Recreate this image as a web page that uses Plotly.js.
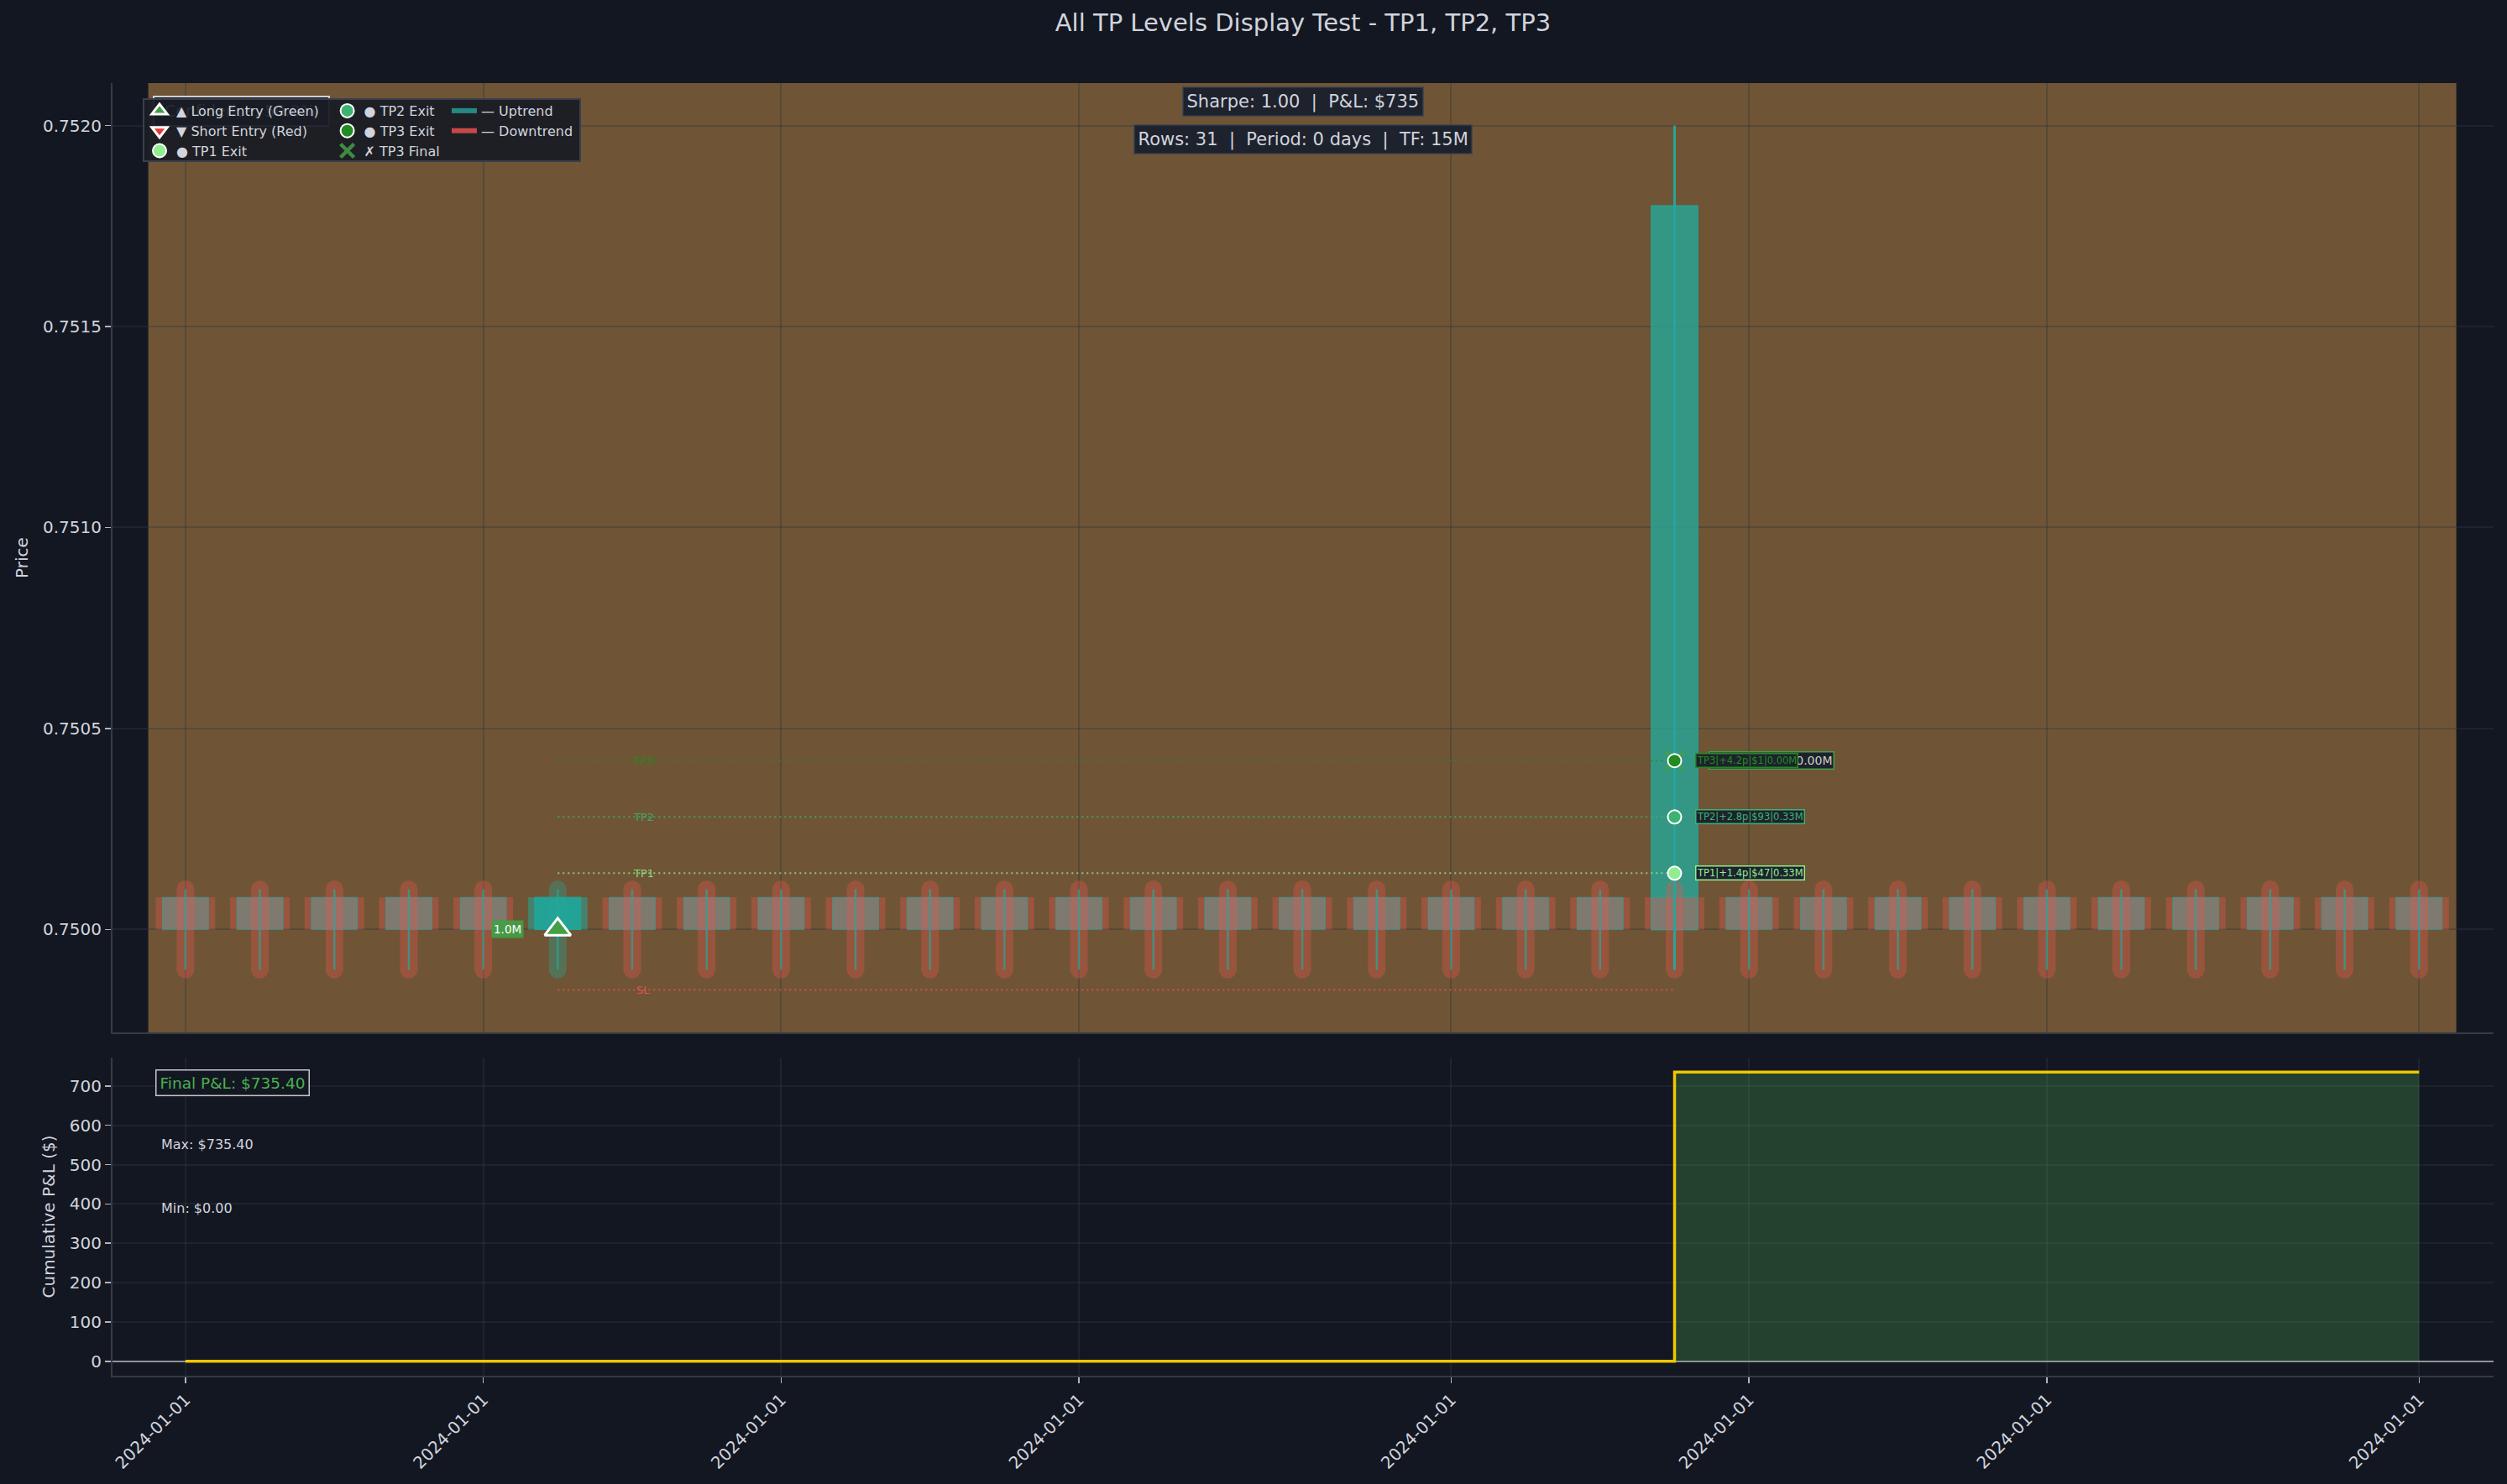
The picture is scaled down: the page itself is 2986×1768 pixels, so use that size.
<!DOCTYPE html>
<html>
<head>
<meta charset="utf-8">
<script src="https://cdn.plot.ly/plotly-3.0.1.min.js"></script>
<style>html,body{margin:0;padding:0;background:#131722;}</style>
</head>
<body>
<div id="chart" style="width:2986px;height:1768px;"></div>
<script>
// ---------------- DATA ----------------
const candleIndex = [0,1,2,3,4,5,6,7,8,9,10,11,12,13,14,15,16,17,18,19,20,21,22,23,24,25,26,27,28,29,30];
const candleOpen  = [0.75000,0.75000,0.75000,0.75000,0.75000,0.75000,0.75000,0.75000,0.75000,0.75000,0.75000,0.75000,0.75000,0.75000,0.75000,0.75000,0.75000,0.75000,0.75000,0.75000,0.75000,0.75000,0.75000,0.75000,0.75000,0.75000,0.75000,0.75000,0.75000,0.75000,0.75000];
const candleHigh  = [0.75010,0.75010,0.75010,0.75010,0.75010,0.75010,0.75010,0.75010,0.75010,0.75010,0.75010,0.75010,0.75010,0.75010,0.75010,0.75010,0.75010,0.75010,0.75010,0.75010,0.75010,0.75010,0.75010,0.75010,0.75010,0.75010,0.75010,0.75010,0.75010,0.75010,0.75010];
const candleLow   = [0.74990,0.74990,0.74990,0.74990,0.74990,0.74990,0.74990,0.74990,0.74990,0.74990,0.74990,0.74990,0.74990,0.74990,0.74990,0.74990,0.74990,0.74990,0.74990,0.74990,0.74990,0.74990,0.74990,0.74990,0.74990,0.74990,0.74990,0.74990,0.74990,0.74990,0.74990];
const candleClose = [0.75008,0.75008,0.75008,0.75008,0.75008,0.75008,0.75008,0.75008,0.75008,0.75008,0.75008,0.75008,0.75008,0.75008,0.75008,0.75008,0.75008,0.75008,0.75008,0.75008,0.75008,0.75008,0.75008,0.75008,0.75008,0.75008,0.75008,0.75008,0.75008,0.75008,0.75008];

// exit spike candle (drawn under the regular layer)
const spikeIndex = [20];
const spikeOpen  = [0.75000];
const spikeHigh  = [0.75200];
const spikeLow   = [0.74990];
const spikeClose = [0.75180];

const entryIndex = 5;
const entryPrice = 0.75000;
const entrySize = '1.0M';
const exitIndex = 20;

const tpNames   = ['TP1', 'TP2', 'TP3'];
const tpPrices  = [0.75014, 0.75028, 0.75042];
const tpPips    = ['+1.4p', '+2.8p', '+4.2p'];
const tpDollars = ['$47', '$93', '$1'];
const tpSizes   = ['0.33M', '0.33M', '0.00M'];
const slPrice   = 0.74985;

const cumPnl = [0,0,0,0,0,0,0,0,0,0,0,0,0,0,0,0,0,0,0,0,735.4,735.4,735.4,735.4,735.4,735.4,735.4,735.4,735.4,735.4,735.4];

const tickIndex  = [0, 4, 8, 12, 17, 21, 25, 30];
const tickLabels = ['2024-01-01','2024-01-01','2024-01-01','2024-01-01','2024-01-01','2024-01-01','2024-01-01','2024-01-01'];
const priceTicks = [0.7500, 0.7505, 0.7510, 0.7515, 0.7520];

const sharpe = 1.00;
const periodDays = 0;
const timeframe = '15M';
const confidence = 50.0;

// ---------------- STYLE ----------------
const BG = '#131722';
const TXT = '#d1d4dc';
const GRID = 'rgba(50,54,66,0.4)';
const SPINE = '#363a45';
const TEAL = '#26a69a';
const RED = '#ef5350';
const tpColors = ['#90ee90', '#3cb371', '#228b22'];

const baseIdx = candleIndex.filter(i => i !== entryIndex);

function segs(idxs, lows, highs) {
  const x = [], y = [];
  idxs.forEach((i, k) => { x.push(i, i, null); y.push(lows[k], highs[k], null); });
  return {x, y};
}

const traces = [];

// spike body (under everything)
traces.push({
  type: 'bar', x: spikeIndex, base: spikeOpen, y: spikeClose.map((c, k) => c - spikeOpen[k]),
  width: 0.62, marker: {color: 'rgba(38,166,154,0.8)', line: {color: TEAL, width: 1.5}},
  xaxis: 'x', yaxis: 'y', showlegend: false, hoverinfo: 'skip'
});
// wide rects
traces.push({
  type: 'bar', x: baseIdx, base: baseIdx.map(i => candleOpen[i]), y: baseIdx.map(i => candleClose[i] - candleOpen[i]),
  width: 0.8, marker: {color: 'rgba(239,83,80,0.35)', line: {width: 0}},
  xaxis: 'x', yaxis: 'y', showlegend: false, hoverinfo: 'skip'
});
traces.push({
  type: 'bar', x: [entryIndex], base: [candleOpen[entryIndex]], y: [candleClose[entryIndex] - candleOpen[entryIndex]],
  width: 0.8, marker: {color: 'rgba(38,166,154,0.55)', line: {width: 0}},
  xaxis: 'x', yaxis: 'y', showlegend: false, hoverinfo: 'skip'
});
// bodies
traces.push({
  type: 'bar', x: baseIdx, base: baseIdx.map(i => candleOpen[i]), y: baseIdx.map(i => candleClose[i] - candleOpen[i]),
  width: 0.62, marker: {color: '#7e7a6f', line: {color: 'rgba(38,166,154,0.6)', width: 1}},
  xaxis: 'x', yaxis: 'y', showlegend: false, hoverinfo: 'skip'
});
traces.push({
  type: 'bar', x: [entryIndex], base: [candleOpen[entryIndex]], y: [candleClose[entryIndex] - candleOpen[entryIndex]],
  width: 0.62, marker: {color: '#22a396', line: {color: TEAL, width: 1}},
  xaxis: 'x', yaxis: 'y', showlegend: false, hoverinfo: 'skip'
});
// thick rounded wicks
const thickBase = segs(baseIdx, baseIdx.map(i => candleLow[i]), baseIdx.map(i => candleHigh[i]));
traces.push({
  type: 'scatter', mode: 'lines+markers', x: thickBase.x, y: thickBase.y, opacity: 0.33,
  line: {color: RED, width: 21}, marker: {color: RED, size: 21, line: {width: 0}},
  xaxis: 'x', yaxis: 'y', showlegend: false, hoverinfo: 'skip'
});
const thickEntry = segs([entryIndex], [candleLow[entryIndex]], [candleHigh[entryIndex]]);
traces.push({
  type: 'scatter', mode: 'lines+markers', x: thickEntry.x, y: thickEntry.y, opacity: 0.35,
  line: {color: TEAL, width: 21}, marker: {color: TEAL, size: 21, line: {width: 0}},
  xaxis: 'x', yaxis: 'y', showlegend: false, hoverinfo: 'skip'
});
// thin wicks
const thinAll = segs(candleIndex, candleLow, candleHigh);
traces.push({
  type: 'scatter', mode: 'lines', x: thinAll.x, y: thinAll.y,
  line: {color: 'rgba(38,166,154,0.7)', width: 2.5},
  xaxis: 'x', yaxis: 'y', showlegend: false, hoverinfo: 'skip'
});
const thinSpike = segs(spikeIndex, spikeLow, spikeHigh);
traces.push({
  type: 'scatter', mode: 'lines', x: thinSpike.x, y: thinSpike.y,
  line: {color: TEAL, width: 3},
  xaxis: 'x', yaxis: 'y', showlegend: false, hoverinfo: 'skip'
});
// TP / SL dotted lines
tpPrices.forEach((p, k) => {
  traces.push({
    type: 'scatter', mode: 'lines', x: [entryIndex, exitIndex], y: [p, p],
    line: {color: tpColors[k], width: 2, dash: '2px,4px'}, opacity: 0.75,
    xaxis: 'x', yaxis: 'y', showlegend: false, hoverinfo: 'skip'
  });
});
traces.push({
  type: 'scatter', mode: 'lines', x: [entryIndex, exitIndex], y: [slPrice, slPrice],
  line: {color: RED, width: 2, dash: '2px,4px'}, opacity: 0.75,
  xaxis: 'x', yaxis: 'y', showlegend: false, hoverinfo: 'skip'
});

// markers + legend entries
traces.push({
  type: 'scatter', mode: 'markers', name: '\u2717 TP3 Final', x: [exitIndex], y: [tpPrices[2]],
  marker: {symbol: 'x-thin-open', size: 22, color: 'rgba(67,160,71,0.85)', line: {color: 'rgba(67,160,71,0.85)', width: 4.5}},
  xaxis: 'x', yaxis: 'y', legend: 'legend2', legendrank: 3, hoverinfo: 'skip'
});
traces.push({
  type: 'scatter', mode: 'markers', name: '\u25B2 Long Entry (Green)', x: [entryIndex], y: [entryPrice],
  marker: {symbol: 'triangle-up', size: 27, color: '#43a047', line: {color: '#ffffff', width: 3}},
  xaxis: 'x', yaxis: 'y', legend: 'legend', legendrank: 1, hoverinfo: 'skip'
});
traces.push({
  type: 'scatter', mode: 'markers', name: '\u25BC Short Entry (Red)', x: [null], y: [null],
  marker: {symbol: 'triangle-down', size: 27, color: '#e53935', line: {color: '#ffffff', width: 3}},
  xaxis: 'x', yaxis: 'y', legend: 'legend', legendrank: 2, hoverinfo: 'skip'
});
const tpLegend = ['legend', 'legend2', 'legend2'];
const tpRank = [3, 1, 2];
tpPrices.forEach((p, k) => {
  traces.push({
    type: 'scatter', mode: 'markers', name: '\u25CF ' + tpNames[k] + ' Exit', x: [exitIndex], y: [p],
    marker: {symbol: 'circle', size: 16, color: tpColors[k], line: {color: '#ffffff', width: 2}},
    xaxis: 'x', yaxis: 'y', legend: tpLegend[k], legendrank: tpRank[k], hoverinfo: 'skip'
  });
});
traces.push({
  type: 'scatter', mode: 'lines', name: '\u2014 Uptrend', x: [null], y: [null],
  line: {color: 'rgba(38,166,154,0.8)', width: 6},
  xaxis: 'x', yaxis: 'y', legend: 'legend3', legendrank: 1, hoverinfo: 'skip'
});
traces.push({
  type: 'scatter', mode: 'lines', name: '\u2014 Downtrend', x: [null], y: [null],
  line: {color: 'rgba(239,83,80,0.8)', width: 6},
  xaxis: 'x', yaxis: 'y', legend: 'legend3', legendrank: 2, hoverinfo: 'skip'
});

// cumulative P&L
traces.push({
  type: 'scatter', mode: 'lines', x: candleIndex, y: cumPnl,
  line: {color: '#f2c600', width: 3.5, shape: 'hv'},
  fill: 'tozeroy', fillcolor: 'rgba(76,175,80,0.28)',
  xaxis: 'x2', yaxis: 'y2', showlegend: false, hoverinfo: 'skip'
});

// ---------------- LAYOUT ----------------
const W = 2986, H = 1768;
const M = {l: 134, r: 16, t: 99, b: 129};
const plotW = W - M.l - M.r, plotH = H - M.t - M.b;
const px2x = px => (px - M.l) / plotW;           // page x -> paper x
const px2y = py => (H - M.b - py) / plotH;       // page y -> paper y

const finalPnl = cumPnl[cumPnl.length - 1];
const maxPnl = Math.max(...cumPnl), minPnl = Math.min(...cumPnl);
const nb = '\u00a0\u00a0|\u00a0\u00a0';

const annotations = [
  {xref: 'paper', yref: 'paper', x: 0.5, y: px2y(121), xanchor: 'center', yanchor: 'middle', showarrow: false,
   text: 'Sharpe: ' + sharpe.toFixed(2) + nb + 'P&amp;L: $' + Math.round(finalPnl),
   font: {size: 21, color: TXT}, bgcolor: '#1e222d', bordercolor: '#434651', borderwidth: 1.5, borderpad: 4},
  {xref: 'paper', yref: 'paper', x: 0.5, y: px2y(166), xanchor: 'center', yanchor: 'middle', showarrow: false,
   text: 'Rows: ' + candleIndex.length + nb + 'Period: ' + periodDays + ' days' + nb + 'TF: ' + timeframe,
   font: {size: 21, color: TXT}, bgcolor: '#1e222d', bordercolor: '#434651', borderwidth: 1.5, borderpad: 4},
  {xref: 'paper', yref: 'paper', x: px2x(194), y: px2y(132), xanchor: 'left', yanchor: 'middle', showarrow: false,
   text: 'Confidence: ' + confidence.toFixed(1) + '%', font: {size: 19, color: 'rgba(209,212,220,0.1)'}},
  {xref: 'x', yref: 'y', x: entryIndex, y: entryPrice, xanchor: 'right', yanchor: 'middle', xshift: -40, showarrow: false,
   text: entrySize, font: {size: 13.5, color: '#ffffff'}, bgcolor: 'rgba(67,160,71,0.92)', borderpad: 2}
];
tpPrices.forEach((p, k) => {
  annotations.push({xref: 'x', yref: 'y', x: entryIndex + 1.15, y: p, xanchor: 'center', yanchor: 'middle', showarrow: false,
    text: tpNames[k], font: {size: 13, color: tpColors[k]}, opacity: 0.85});
});
annotations.push({xref: 'x', yref: 'y', x: entryIndex + 1.15, y: slPrice, xanchor: 'center', yanchor: 'middle', showarrow: false,
  text: 'SL', font: {size: 13, color: RED}, opacity: 0.85});
// back TP3 box
annotations.push({xref: 'x', yref: 'y', x: exitIndex, y: tpPrices[2], xanchor: 'left', yanchor: 'middle', xshift: 40, showarrow: false,
  text: tpNames[2] + '|' + tpPips[2] + '|' + tpDollars[2] + '|' + tpSizes[2],
  font: {size: 14, color: '#c8d2c8'}, bgcolor: '#1e222d', bordercolor: '#43a047', borderwidth: 1.5, borderpad: 1});
tpPrices.forEach((p, k) => {
  annotations.push({xref: 'x', yref: 'y', x: exitIndex, y: p, xanchor: 'left', yanchor: 'middle', xshift: 24, showarrow: false,
    text: tpNames[k] + '|' + tpPips[k] + '|' + tpDollars[k] + '|' + tpSizes[k],
    font: {size: 11.5, color: tpColors[k]}, bgcolor: '#1e222d', bordercolor: tpColors[k], borderwidth: 1.5, borderpad: 0.5});
});
annotations.push(
  {xref: 'paper', yref: 'paper', x: px2x(185), y: px2y(1289.5), xanchor: 'left', yanchor: 'middle', showarrow: false,
   text: 'Final P&amp;L: $' + finalPnl.toFixed(2), font: {size: 18.5, color: '#4caf50'},
   bgcolor: BG, bordercolor: '#c8c8c8', borderwidth: 1.5, borderpad: 4},
  {xref: 'paper', yref: 'paper', x: px2x(190), y: px2y(1363), xanchor: 'left', yanchor: 'middle', showarrow: false,
   text: 'Max: $' + maxPnl.toFixed(2), font: {size: 16, color: TXT}},
  {xref: 'paper', yref: 'paper', x: px2x(190), y: px2y(1439), xanchor: 'left', yanchor: 'middle', showarrow: false,
   text: 'Min: $' + minPnl.toFixed(2), font: {size: 16, color: TXT}}
);

const shapes = [
  {type: 'rect', xref: 'x', yref: 'y domain', x0: -0.5, x1: candleIndex.length - 0.5, y0: 0, y1: 1,
   fillcolor: '#6f5535', line: {width: 0}, layer: 'below'},
  {type: 'rect', xref: 'paper', yref: 'paper', x0: px2x(183), x1: px2x(392), y0: px2y(150), y1: px2y(115),
   fillcolor: '#1b1e27', line: {color: '#d0d0d0', width: 2}, layer: 'above'},
  {type: 'rect', xref: 'paper', yref: 'paper', x0: px2x(171), x1: px2x(691), y0: px2y(192), y1: px2y(118),
   fillcolor: 'rgba(25,28,37,0.95)', line: {color: '#3a3f4d', width: 2}, layer: 'above'}
];

const legendBase = {xanchor: 'left', yanchor: 'top', y: px2y(115), bgcolor: 'rgba(0,0,0,0)', borderwidth: 0,
  font: {size: 16, color: TXT, family: 'DejaVu Sans'}, itemwidth: 30, traceorder: 'normal', tracegroupgap: 0};

const axisCommon = {showgrid: true, gridcolor: GRID, gridwidth: 2, zeroline: false, showline: true,
  linecolor: SPINE, linewidth: 2, tickfont: {size: 20, color: TXT}, tickcolor: '#b2b5be', tickwidth: 1.5};

const layout = {
  width: W, height: H,
  paper_bgcolor: BG, plot_bgcolor: BG,
  font: {family: 'DejaVu Sans', color: TXT, size: 20},
  margin: {l: M.l, r: M.r, t: M.t, b: M.b, pad: 0},
  hovermode: false, barmode: 'overlay', showlegend: true,
  title: {text: 'All TP Levels Display Test - TP1, TP2, TP3', font: {size: 29, color: TXT},
          x: 0.5, xref: 'paper', xanchor: 'center', y: 1 - 27 / H, yref: 'container', yanchor: 'middle'},
  xaxis: Object.assign({}, axisCommon, {domain: [0, 1], anchor: 'y', range: [-0.98, 31.0],
          tickmode: 'array', tickvals: tickIndex, ticktext: tickLabels, showticklabels: false, ticks: ''}),
  yaxis: Object.assign({}, axisCommon, {domain: [px2y(1230), 1], anchor: 'x', range: [0.749744, 0.7521056],
          tickmode: 'array', tickvals: priceTicks, tickformat: '.4f', ticks: 'outside', ticklen: 7,
          title: {text: 'Price', font: {size: 20, color: TXT}, standoff: 12}}),
  xaxis2: Object.assign({}, axisCommon, {domain: [0, 1], anchor: 'y2', matches: 'x', range: [-0.98, 31.0],
          tickmode: 'array', tickvals: tickIndex, ticktext: tickLabels, tickangle: -45, ticks: 'outside', ticklen: 7}),
  yaxis2: Object.assign({}, axisCommon, {domain: [0, px2y(1260)], anchor: 'x2', range: [-36.77, 772.17],
          tick0: 0, dtick: 100, ticks: 'outside', ticklen: 7,
          zeroline: true, zerolinecolor: 'rgba(190,190,190,0.75)', zerolinewidth: 2,
          title: {text: 'Cumulative P&amp;L ($)', font: {size: 20, color: TXT}, standoff: 12}}),
  shapes: shapes,
  annotations: annotations,
  legend: Object.assign({}, legendBase, {x: px2x(170)}),
  legend2: Object.assign({}, legendBase, {x: px2x(393.6)}),
  legend3: Object.assign({}, legendBase, {x: px2x(533)})
};

Plotly.newPlot('chart', traces, layout, {displayModeBar: false, staticPlot: true});
</script>
</body>
</html>
